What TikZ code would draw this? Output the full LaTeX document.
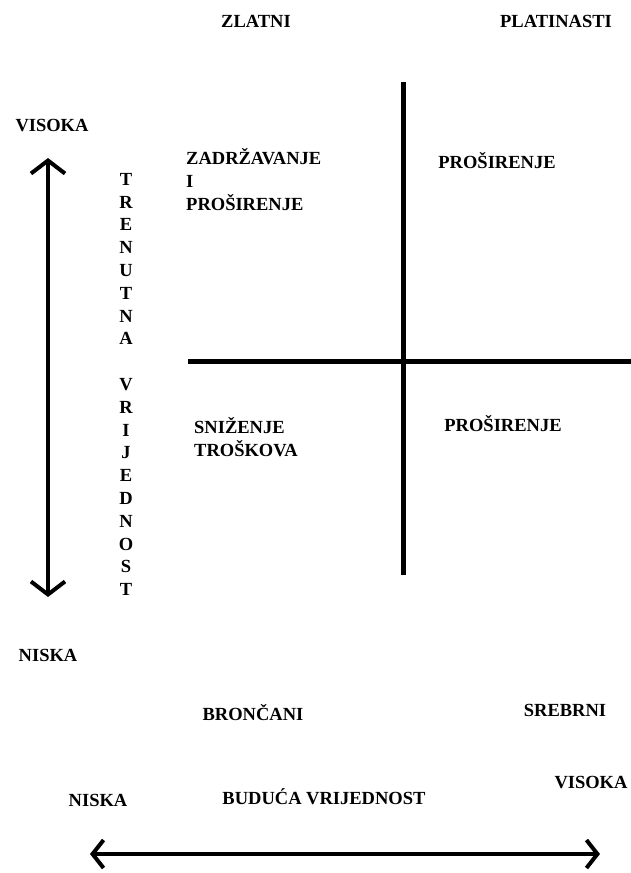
\documentclass[tikz,border=0pt]{standalone}
\usepackage{fontspec}
\setmainfont{Liberation Serif}
\usetikzlibrary{arrows.meta}
\tikzset{
    lbl/.style={font=\bfseries\fontsize{18.5}{22.8}\selectfont, inner sep=0pt},
    axisline/.style={line width=5pt},
    valarrow/.style={line width=4.5pt,
        {Straight Barb[length=13pt,width=34pt,line width=4pt]}-{Straight Barb[length=13pt,width=34pt,line width=4pt]}},
    futarrow/.style={line width=4.5pt,
        {Straight Barb[length=11pt,width=28pt,line width=4pt]}-{Straight Barb[length=11pt,width=28pt,line width=4pt]}}
}

\begin{document}
\begin{tikzpicture}[x=1pt,y=-1pt]
        \useasboundingbox (0,0) rectangle (630,873);

        % quadrant names
        \node[lbl, anchor=base] (zlatni) at (256,27) {ZLATNI};
        \node[lbl, anchor=base] (platinasti) at (556,27) {PLATINASTI};
        \node[lbl, anchor=base] (broncani) at (253,720) {BRONČANI};
        \node[lbl, anchor=base] (srebrni) at (565,716) {SREBRNI};

        % quadrant lines
        \coordinate (vlinetop) at (403,82);
        \coordinate (vlinebot) at (403,575);
        \coordinate (hlineleft) at (188,361);
        \coordinate (hlineright) at (632,361);
        \draw[axisline] (vlinetop) -- (vlinebot);
        \draw[axisline] (hlineleft) -- (hlineright);

        % strategies
        \node[lbl, anchor=north west, align=left] (zadrzavanje) at (186,148.5) {ZADRŽAVANJE\\I\\PROŠIRENJE};
        \node[lbl, anchor=base] (prosirenjegore) at (497,168) {PROŠIRENJE};
        \node[lbl, anchor=north west, align=left] (snizenje) at (194,417.5) {SNIŽENJE\\TROŠKOVA};
        \node[lbl, anchor=base] (prosirenjedolje) at (503,431) {PROŠIRENJE};

        % vertical axis
        \node[lbl, anchor=base] (visokagore) at (52,131) {VISOKA};
        \node[lbl, anchor=base] (niskalijevo) at (48,661) {NISKA};
        \node[lbl, anchor=north, align=center] (trenutna) at (126,173)
            {T\\R\\E\\N\\U\\T\\N\\A\\ \\V\\R\\I\\J\\E\\D\\N\\O\\S\\T};
        \coordinate (vtop) at (48,158);
        \coordinate (vbot) at (48,597);
        \draw[valarrow] (vbot) -- (vtop);

        % horizontal axis
        \node[lbl, anchor=base] (niskadolje) at (98,806) {NISKA};
        \node[lbl, anchor=base] (buduca) at (324,804) {BUDUĆA VRIJEDNOST};
        \node[lbl, anchor=base] (visokadesno) at (591,788) {VISOKA};
        \coordinate (hleft) at (90,854);
        \coordinate (hright) at (600,854);
        \draw[futarrow] (hleft) -- (hright);
    \end{tikzpicture}
\end{document}
